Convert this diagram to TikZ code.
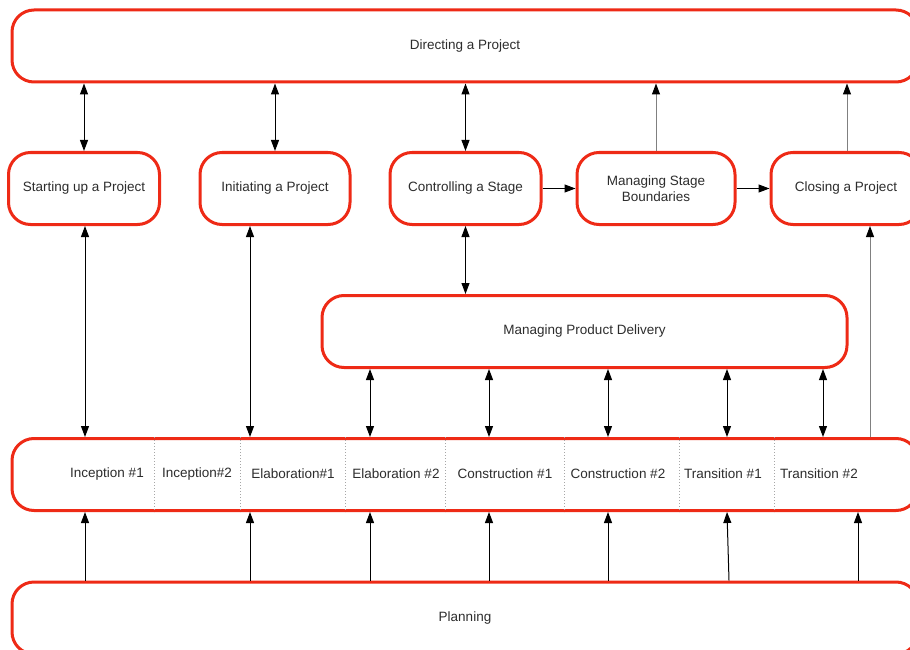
\documentclass[tikz,border=0pt]{standalone}
\usepackage{fontspec}
\setmainfont{Liberation Sans}
\usetikzlibrary{arrows.meta}
\definecolor{procred}{RGB}{238,42,22}
\definecolor{txtgray}{RGB}{45,45,45}
\tikzset{
  proc/.style={draw=procred, line width=3pt, rounded corners=22pt, fill=white,
    minimum height=72pt, inner sep=0pt, align=center, text=txtgray,
    font=\fontsize{13.5}{16}\selectfont},
  phase/.style={text=txtgray, inner sep=0pt, font=\fontsize{13.5}{16}\selectfont},
  both/.style={{Triangle[length=11pt,width=8pt]}-{Triangle[length=11pt,width=8pt]}, line width=1pt},
  up/.style={-{Triangle[length=11pt,width=8pt]}, line width=1pt},
  gup/.style={-{Triangle[length=11pt,width=8pt,color=black]}, gray, line width=1pt},
  sep/.style={gray!70, dotted, line width=1pt}
}
\begin{document}
\begin{tikzpicture}[x=1pt,y=-1pt]
			\useasboundingbox (0,0) rectangle (910,650);
			% processes
			\node[proc, minimum width=906pt] (dir) at (465,46) {Directing a Project};
			\node[proc, minimum width=151pt] (start) at (84,188.5) {Starting up a Project};
			\node[proc, minimum width=150pt] (init) at (275,188.5) {Initiating a Project};
			\node[proc, minimum width=151pt] (ctrl) at (465.5,188.5) {Controlling a Stage};
			\node[proc, minimum width=158pt] (msb) at (656,188.5) {Managing Stage\\Boundaries};
			\node[proc, minimum width=150pt] (close) at (846,188.5) {Closing a Project};
			\node[proc, minimum width=525pt] (mpd) at (584.5,331.5) {Managing Product Delivery};
			\node[proc, minimum width=906pt] (ph) at (465,474.5) {};
			\node[proc, minimum width=906pt] (plan) at (465,618) {Planning};
			% phases
			\node[phase] (p1) at (107,474) {Inception \#1};
			\node[phase] (p2) at (197,474) {Inception\#2};
			\node[phase] (p3) at (293,474) {Elaboration\#1};
			\node[phase] (p4) at (396,474) {Elaboration \#2};
			\node[phase] (p5) at (505,474) {Construction \#1};
			\node[phase] (p6) at (618,474) {Construction \#2};
			\node[phase] (p7) at (723,474) {Transition \#1};
			\node[phase] (p8) at (819,474) {Transition \#2};
			\foreach \x in {154,240,345,445,564,679,774}
				\draw[sep] (ph.north -| \x,0) -- (ph.south -| \x,0);
			% connectors
			\draw[both] (dir.south -| start.north) -- (start.north);
			\draw[both] (dir.south -| init.north) -- (init.north);
			\draw[both] (dir.south -| ctrl.north) -- (ctrl.north);
			\draw[gup] (msb.north) -- (dir.south -| msb.north);
			\draw[gup] (close.north -| 847,0) -- (dir.south -| 847,0);
			\draw[up] (ctrl.east) -- (msb.west);
			\draw[up] (msb.east) -- (close.west);
			\draw[both] (ctrl.south) -- (mpd.north -| ctrl.south);
			\draw[both] (start.south -| 85,0) -- (ph.north -| 85,0);
			\draw[both] (init.south -| 250,0) -- (ph.north -| 250,0);
			\draw[gup] (ph.north -| 870,0) -- (close.south -| 870,0);
			\foreach \x in {370,489,608,727,823}
				\draw[both] (mpd.south -| \x,0) -- (ph.north -| \x,0);
			\foreach \x in {85,250,370,489,608,858}
				\draw[up] (plan.north -| \x,0) -- (ph.south -| \x,0);
			\draw[up] (plan.north -| 729,0) -- (ph.south -| 727,0);
		\end{tikzpicture}
\end{document}
